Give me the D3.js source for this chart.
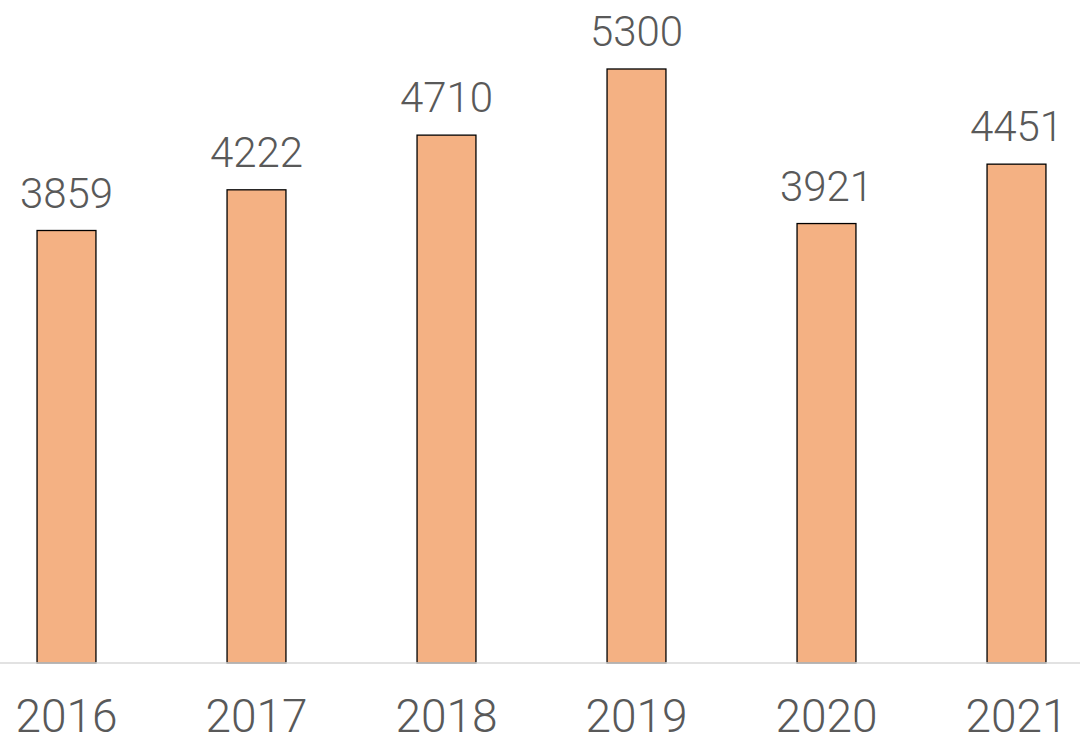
<!DOCTYPE html>
<html><head><meta charset="utf-8">
<script src="https://cdn.jsdelivr.net/npm/d3@7"></script>
<style>html,body{margin:0;padding:0;background:#fff;}svg{display:block;}</style>
</head><body>
<svg id="chart" width="1080" height="744"></svg>
<script>
const categories = ["2016","2017","2018","2019","2020","2021"];
const values = [3859, 4222, 4710, 5300, 3921, 4451];

const svg = d3.select("#chart");
const baseY = 663, topY = 69;
const x = d3.scaleBand().domain(categories).range([-28.5, 1111.5]).paddingInner(0.69).paddingOuter(0.345);
const y = d3.scaleLinear().domain([0, 5300]).range([baseY, topY]);

svg.append("g").selectAll("rect").data(categories).join("rect")
  .attr("x", d => x(d)).attr("width", x.bandwidth())
  .attr("y", (d,i) => y(values[i])).attr("height", (d,i) => baseY - y(values[i]))
  .attr("fill", "#F4B183").attr("stroke", "#000").attr("stroke-width", 1.3);

const axis = svg.append("g").attr("transform", `translate(0,${baseY})`)
  .call(d3.axisBottom(x).tickSize(0).tickPadding(0));
axis.select(".domain").attr("stroke", "#d9d9d9").attr("stroke-width", 1.5).attr("d", "M0,0H1080");
axis.selectAll("text").attr("dy", null).attr("y", 69)
  .attr("font-family", "Roboto").attr("font-weight", 300).attr("font-size", 46).attr("fill", "#595959");

svg.append("g").selectAll("text").data(categories).join("text")
  .attr("x", d => x(d) + x.bandwidth()/2).attr("y", (d,i) => y(values[i]) - 23)
  .attr("text-anchor", "middle").attr("font-family", "Roboto").attr("font-weight", 300).attr("font-size", 42)
  .attr("fill", "#595959").text((d,i) => values[i]);
</script>
</body></html>
